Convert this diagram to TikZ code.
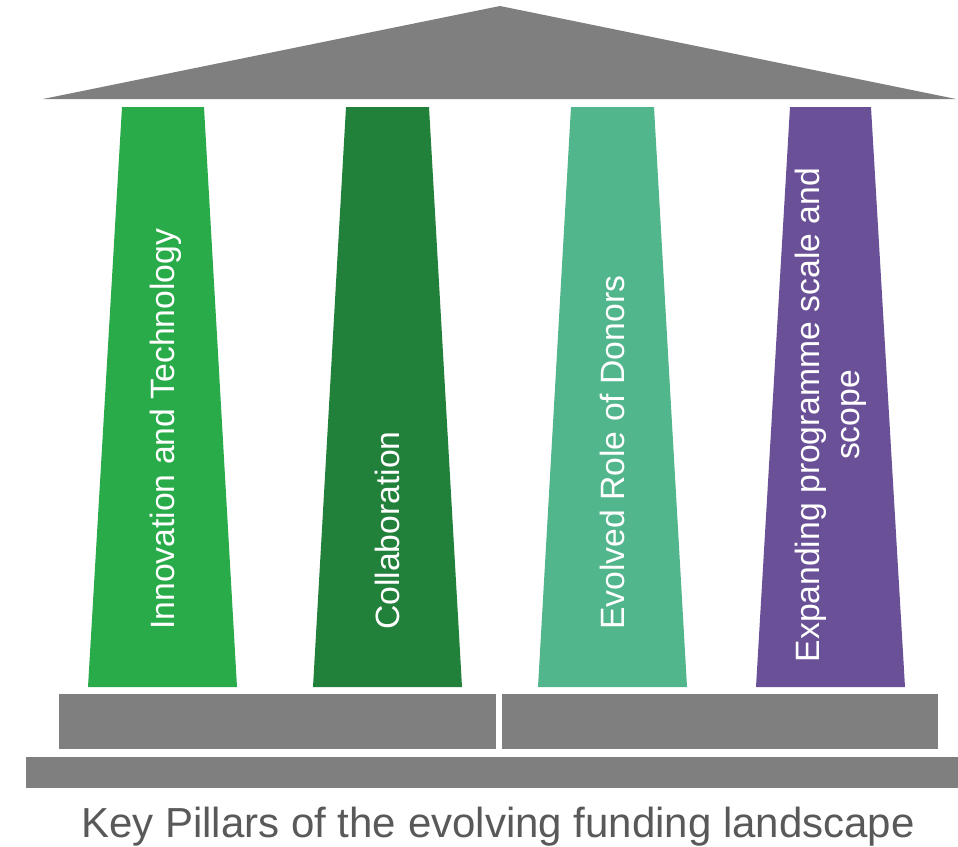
\documentclass[tikz,border=0pt]{standalone}
\usepackage{fontspec}
\setmainfont{Liberation Sans}
\definecolor{roofgray}{HTML}{7F7F7F}
\definecolor{titlegray}{HTML}{595959}
\definecolor{pilA}{HTML}{2AAB4A}
\definecolor{pilB}{HTML}{21803A}
\definecolor{pilC}{HTML}{52B68C}
\definecolor{pilD}{HTML}{6A5197}
\tikzset{
  stone/.style={fill=roofgray, draw=none},
  pillartext/.style={text=white, rotate=90, inner sep=0pt, font=\fontsize{33.7}{40}\selectfont},
}
\begin{document}
\begin{tikzpicture}[x=1pt,y=-1pt]
\useasboundingbox (0,0) rectangle (958,846);
% roof
\fill[stone] (43,99) -- (500,6) -- (956,99) -- cycle;
% pillars
\fill[pilA] (122,107) -- (204,107) -- (237,687) -- (88,687) -- cycle;
\fill[pilB] (346,107) -- (429,107) -- (462,687) -- (313,687) -- cycle;
\fill[pilC] (571,107) -- (654,107) -- (687,687) -- (538,687) -- cycle;
\fill[pilD] (790,107) -- (871,107) -- (905,687) -- (756,687) -- cycle;
% base slabs
\fill[stone] (59,694) rectangle (496,749);
\fill[stone] (502,694) rectangle (938,749);
\fill[stone] (26,757) rectangle (958,788);
% pillar labels
\node[pillartext, anchor=base west] (t1) at (174,630) {Innovation and Technology};
\node[pillartext, anchor=base west] (t2) at (399,630) {Collaboration};
\node[pillartext, anchor=base west] (t3) at (624,630) {Evolved Role of Donors};
\node[pillartext, anchor=north, align=center] (t4) at (795,415) {Expanding programme scale and\\scope};
% title
\node[anchor=base, inner sep=0pt, text=titlegray, font=\fontsize{42}{48}\selectfont] (title) at (498,837) {Key Pillars of the evolving funding landscape};
\end{tikzpicture}
\end{document}
